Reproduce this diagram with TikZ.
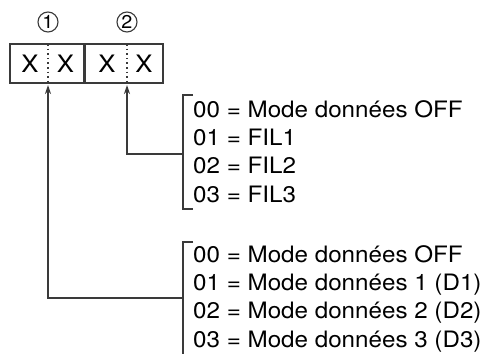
\documentclass[tikz,border=0pt]{standalone}
\usepackage{fontspec}
\setmainfont{TeX Gyre Heros}[FakeStretch=1.07]
\usetikzlibrary{arrows.meta}
\definecolor{linegray}{HTML}{3A3A3A}
\begin{document}
\begin{tikzpicture}[x=1pt,y=-1pt,
  ln/.style={draw=linegray,line width=1.4pt},
  arr/.style={ln,-{Stealth[length=9pt,width=6pt]}},
  boxst/.style={ln,rectangle,inner sep=0,minimum width=74pt,minimum height=39pt},
  xch/.style={inner sep=0,font=\fontsize{24}{24}\selectfont},
  circ/.style={ln,line width=1.1pt,circle,inner sep=0,minimum size=20pt,font=\fontsize{18.5}{18.5}\selectfont},
  lbl/.style={anchor=base west,inner sep=0,font=\fontsize{22.6}{22.6}\selectfont},
  dots/.style={draw=linegray,line width=1.5pt,dash pattern=on 1.6pt off 3pt}]
\useasboundingbox (0,0) rectangle (483,354);
% boxes
\node[boxst] (b1) at (47,63.5) {};
\node[boxst,minimum width=78pt] (b2) at (124,63.5) {};
\coordinate (d1t) at (48,44); \coordinate (d1b) at (48,83);
\coordinate (d2t) at (127,44); \coordinate (d2b) at (127,83);
\draw[dots] (d1t) -- (d1b);
\draw[dots] (d2t) -- (d2b);
\node[xch] (x1) at (30,63.5) {X};
\node[xch] (x2) at (65.5,63.5) {X};
\node[xch] (x3) at (107,63.5) {X};
\node[xch] (x4) at (144,63.5) {X};
% circled numbers
\node[circ] (c1) at (48,22) {1};
\node[circ] (c2) at (127,22) {2};
% group 1
\node[lbl] (a0) at (193,117) {00 = Mode données OFF};
\node[lbl] (a1) at (193,145) {01 = FIL1};
\node[lbl] (a2) at (193,173) {02 = FIL2};
\node[lbl] (a3) at (193,202) {03 = FIL3};
\coordinate (g1t) at (183,95); \coordinate (g1b) at (183,209);
\coordinate (g1m) at (183,154);
\draw[ln] (193,95) -- (g1t) -- (g1b) -- (193,209);
% group 2
\node[lbl] (e0) at (193,262) {00 = Mode données OFF};
\node[lbl] (e1) at (193,290) {01 = Mode données 1 (D1)};
\node[lbl] (e2) at (193,318) {02 = Mode données 2 (D2)};
\node[lbl] (e3) at (193,347) {03 = Mode données 3 (D3)};
\coordinate (g2t) at (183,242); \coordinate (g2b) at (183,354);
\coordinate (g2m) at (183,298);
\draw[ln] (193,242) -- (g2t) -- (g2b);
% connectors
\coordinate (p1) at (48,85);
\coordinate (p2) at (127,85);
\draw[arr] (g1m) -| (p2);
\draw[arr] (g2m) -| (p1);
\end{tikzpicture}
\end{document}
